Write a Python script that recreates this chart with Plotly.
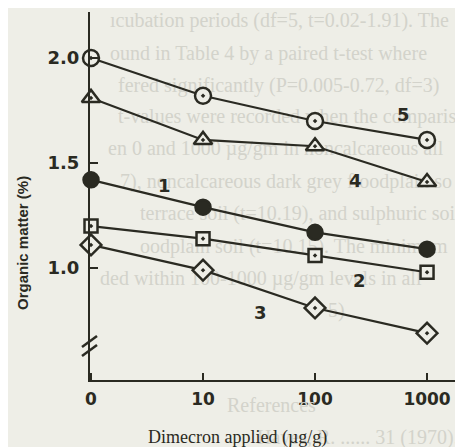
import plotly.graph_objects as go

# ---- data ----
dose = [0, 10, 100, 1000]
tick_labels = ["0", "10", "100", "1000"]
s1 = [1.42, 1.29, 1.17, 1.09]   # filled circle
s2 = [1.20, 1.14, 1.06, 0.98]   # square
s3 = [1.11, 0.99, 0.81, 0.69]   # diamond
s4 = [1.81, 1.61, 1.58, 1.41]   # triangle
s5 = [2.00, 1.82, 1.70, 1.61]   # circle with dot
series_names = ["1", "2", "3", "4", "5"]
y_ticks = [1.0, 1.5, 2.0]
y_tick_labels = ["1.0", "1.5", "2.0"]

BG = "#eeeee7"
INK = "#2a2a22"
FAINT = "#d3d3cb"

# 0 dose drawn at the log position of 1 (hand-drawn axis convention)
xp = [d if d > 0 else 1 for d in dose]

# page offset (browser body margin)
OFF = 8
W, H = 463 - OFF, 447 - OFF
L, R, T, B = 90 - OFF, 0, 12 - OFF, 67
pw, ph = W - L - R, H - T - B
XR = [-0.009, 3.321]
YR = [0.467, 2.219]


def px2paper(px, py):
    return (px - OFF - L) / pw, (H - B - (py - OFF)) / ph


def px2data(px, py):
    fx, fy = px2paper(px, py)
    return 10 ** (XR[0] + fx * (XR[1] - XR[0])), YR[0] + fy * (YR[1] - YR[0])


fig = go.Figure()

# faint show-through text from the scanned page (drawn underneath the marks)
bleed_in = [
    (110, 22, "ıcubation periods (df=5, t=0.02-1.91). The"),
    (110, 55, "ound in Table 4 by a paired t-test where"),
    (118, 87, "fered significantly (P=0.005-0.72, df=3)"),
    (118, 118, "t-values were recorded when the comparis"),
    (108, 150, "en 0 and 1000 µg/gm in noncalcareous all"),
    (120, 183, "7), noncalcareous dark grey floodplain so"),
    (140, 215, "terrace soil (t=10.19), and sulphuric soil"),
    (140, 248, "oodplain soil (t=10.15). The minimum"),
    (100, 280, "ded within 100-1000 µg/gm levels in all"),
    (328, 312, "5)"),
]
bleed_out = [
    (225, 405, "References"),
    (255, 437, "Hayes, R. ...... 31 (1970)."),
]
bx, by, bt = [], [], []
for px, py, txt in bleed_in:
    dx, dy = px2data(px, py)
    bx.append(dx)
    by.append(dy)
    bt.append(txt)
fig.add_trace(go.Scatter(
    x=bx, y=by, text=bt, mode="text", textposition="middle right",
    textfont=dict(family="Liberation Serif", size=20, color=FAINT),
    cliponaxis=False, showlegend=False, hoverinfo="skip",
))

styles = [
    (s1, "circle", INK, 15),
    (s2, "square-dot", BG, 13),
    (s3, "diamond-dot", BG, 16),
    (s4, "triangle-up-dot", BG, 16),
    (s5, "circle-dot", BG, 16),
]
for (ys, sym, fill, sz), name in zip(styles, series_names):
    fig.add_trace(go.Scatter(
        x=xp, y=ys, mode="lines+markers", name=name,
        line=dict(color=INK, width=2.2),
        marker=dict(symbol=sym, size=sz, color=fill,
                    line=dict(color=INK, width=2.5)),
        cliponaxis=False, showlegend=False,
    ))

annotations = []
for px, py, txt in bleed_out:
    ax, ay = px2paper(px, py)
    annotations.append(dict(
        xref="paper", yref="paper", x=ax, y=ay,
        xanchor="left", yanchor="middle", showarrow=False,
        text=txt, font=dict(family="Liberation Serif", size=20, color=FAINT),
    ))

# series labels
label_pos = [("1", 0.66, 1.395), ("2", 2.40, 0.943), ("3", 1.51, 0.790),
             ("4", 2.36, 1.419), ("5", 2.79, 1.729)]
for t, lx, ly in label_pos:
    annotations.append(dict(
        x=lx, y=ly, xref="x", yref="y", showarrow=False, text=t,
        xanchor="center", yanchor="middle",
        font=dict(family="DejaVu Sans", size=18, color=INK, weight="bold"),
    ))

# axis titles
ax, ay = px2paper(22, 243)
annotations.append(dict(
    xref="paper", yref="paper", x=ax, y=ay,
    xanchor="center", yanchor="middle",
    text="Organic matter (%)", textangle=-90, showarrow=False,
    font=dict(family="Liberation Sans", size=15, color=INK, weight="bold"),
))
ax, ay = px2paper(237, 437)
annotations.append(dict(
    xref="paper", yref="paper", x=ax, y=ay,
    xanchor="center", yanchor="middle",
    text="Dimecron applied (µg/g)", showarrow=False,
    font=dict(family="Liberation Serif", size=18, color=INK),
))

# axis break marks
shapes = []
for dy in (0, 9):
    y0 = 347 + dy
    x0p, y0p = px2paper(82, y0)
    x1p, y1p = px2paper(97, y0 - 11)
    shapes.append(dict(
        type="line", xref="paper", yref="paper",
        x0=x0p, x1=x1p, y0=y0p, y1=y1p,
        line=dict(color=INK, width=2.5),
    ))

fig.update_layout(
    width=W, height=H,
    margin=dict(l=L, r=R, t=T, b=B, pad=0, autoexpand=False),
    paper_bgcolor=BG, plot_bgcolor=BG,
    annotations=annotations, shapes=shapes,
    xaxis=dict(
        type="log", range=XR, automargin=False,
        tickvals=xp, ticktext=tick_labels,
        ticks="inside", ticklen=7, tickwidth=2, tickcolor=INK,
        showline=True, linecolor=INK, linewidth=2.2,
        showgrid=False, zeroline=False, ticklabelstandoff=2,
        tickfont=dict(family="DejaVu Sans", size=17, color=INK, weight="bold"),
    ),
    yaxis=dict(
        range=YR, automargin=False,
        tickvals=y_ticks, ticktext=y_tick_labels,
        ticks="inside", ticklen=8, tickwidth=2, tickcolor=INK,
        showline=True, linecolor=INK, linewidth=2.2,
        showgrid=False, zeroline=False, ticklabelstandoff=5,
        tickfont=dict(family="DejaVu Sans", size=18, color=INK, weight="bold"),
    ),
)

fig.write_html("out.html")
